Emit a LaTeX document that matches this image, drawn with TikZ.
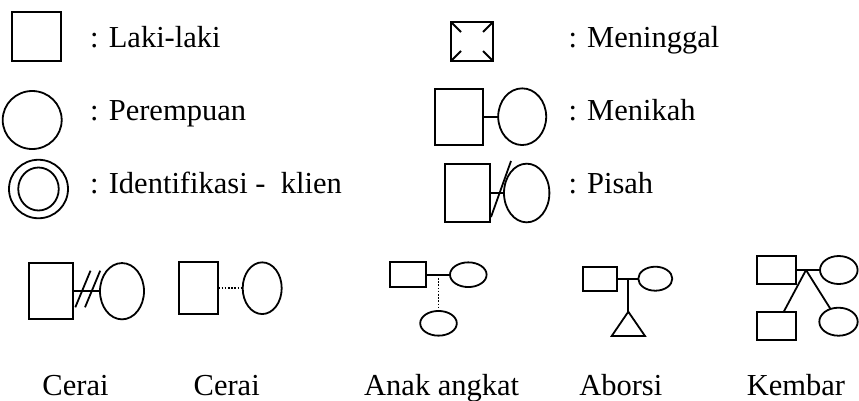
\documentclass[tikz,border=0pt]{standalone}
\usepackage{fontspec}
\setmainfont{Liberation Serif}
\usetikzlibrary{shapes.geometric}
\begin{document}
\begin{tikzpicture}[x=1pt,y=-1pt,line width=1.8pt,
  sq/.style={draw,rectangle,inner sep=0pt,outer sep=0pt},
  ov/.style={draw,ellipse,inner sep=0pt,outer sep=0pt},
  lbl/.style={inner sep=0pt,font=\fontsize{30.5}{36}\selectfont},
  dots/.style={line width=1.6pt,dash pattern=on 1.6pt off 1.6pt}]
\useasboundingbox (0,0) rectangle (859,400);

% --- legend, left column
\node[sq,minimum width=49pt,minimum height=49pt] (laki) at (36.5,36.5) {};
\node[lbl,anchor=base west] (tlaki) at (89.3,47.3) {: Laki-laki};

\node[ov,minimum width=59pt,minimum height=58pt] (perem) at (32.2,120) {};
\node[lbl,anchor=base west] (tperem) at (89.3,120.7) {: Perempuan};

\node[ov,minimum width=59pt,minimum height=58.5pt] (idout) at (38.5,189) {};
\node[ov,minimum width=40.5pt,minimum height=43pt] (idin) at (38.5,189) {};
\node[lbl,anchor=base west] (tid) at (89.3,193.3) {: Identifikasi -\ \ klien};

% --- legend, right column
\node[sq,minimum width=42pt,minimum height=39pt] (mati) at (472,41.5) {};
\draw (mati.north west) -- ++(10,10);
\draw (mati.north east) -- ++(-10,10);
\draw (mati.south west) -- ++(10,-10);
\draw (mati.south east) -- ++(-10,-10);
\node[lbl,anchor=base west] (tmati) at (567.6,47.7) {: Meninggal};

\node[sq,minimum width=48.6pt,minimum height=56pt] (nk1) at (459,116.7) {};
\node[ov,minimum width=48pt,minimum height=56.7pt] (nk2) at (522.2,116.7) {};
\draw (nk1.east) -- (nk2.west);
\node[lbl,anchor=base west] (tnk) at (567.6,120.7) {: Menikah};

\node[sq,minimum width=45pt,minimum height=57.7pt] (ps1) at (467.5,193) {};
\node[ov,minimum width=45.4pt,minimum height=58.7pt] (ps2) at (526.7,193) {};
\draw (ps1.east) -- (ps2.west);
\draw (491,217) -- (511,161);
\node[lbl,anchor=base west] (tps) at (567.6,193.3) {: Pisah};

% --- bottom row
% Cerai (double slash)
\node[sq,minimum width=43.4pt,minimum height=55.7pt] (c1a) at (51,291.2) {};
\node[ov,minimum width=44pt,minimum height=56.3pt] (c1b) at (122,291.2) {};
\draw (c1a.east) -- (c1b.west);
\draw (75.3,307.3) -- (90.5,270.7);
\draw (85,307.3) -- (100.2,270.7);
\node[lbl,anchor=base] (tc1) at (75.5,395) {Cerai};

% Cerai (dotted)
\node[sq,minimum width=39.6pt,minimum height=51.7pt] (c2a) at (198.5,288.2) {};
\node[ov,minimum width=39pt,minimum height=51.7pt] (c2b) at (262.2,288.2) {};
\draw[dots] (c2a.east) -- (c2b.west);
\node[lbl,anchor=base] (tc2) at (226.7,395) {Cerai};

% Anak angkat
\node[sq,minimum width=36pt,minimum height=24.7pt] (aa1) at (408,274.7) {};
\node[ov,minimum width=36.6pt,minimum height=24.7pt] (aa2) at (468.3,274.7) {};
\draw (aa1.east) -- (aa2.west);
\coordinate (aam) at (438.5,274.7);
\node[ov,minimum width=36.6pt,minimum height=24.7pt] (aac) at (438.5,323.3) {};
\draw[dots] (aam) -- (aac.north);
\node[lbl,anchor=base] (taa) at (441.7,395) {Anak angkat};

% Aborsi
\node[sq,minimum width=34pt,minimum height=24pt] (ab1) at (600.3,278.7) {};
\node[ov,minimum width=34pt,minimum height=24pt] (ab2) at (655.3,278.7) {};
\draw (ab1.east) -- (ab2.west);
\coordinate (abm) at (628.3,278.7);
\coordinate (tri) at (628.3,311.7);
\draw (abm) -- (tri);
\draw[line join=miter] (tri) -- (611.7,336) -- (645,336) -- cycle;
\node[lbl,anchor=base] (tab) at (620.8,395) {Aborsi};

% Kembar
\node[sq,minimum width=39pt,minimum height=28pt] (kb1) at (776.2,270) {};
\node[ov,minimum width=37.6pt,minimum height=28pt] (kb2) at (838.8,270) {};
\draw (kb1.east) -- (kb2.west);
\coordinate (kbm) at (806,270);
\node[sq,minimum width=39pt,minimum height=28.3pt] (kb3) at (776.2,325.85) {};
\node[ov,minimum width=38.4pt,minimum height=28pt] (kb4) at (838.5,321.7) {};
\draw (kbm) -- (kb3);
\draw (kbm) -- (kb4);
\node[lbl,anchor=base] (tkb) at (796,395) {Kembar};
\end{tikzpicture}
\end{document}
